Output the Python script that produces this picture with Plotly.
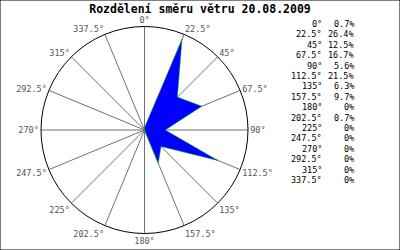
import plotly.graph_objects as go

directions = [0, 22.5, 45, 67.5, 90, 112.5, 135, 157.5, 180, 202.5, 225, 247.5, 270, 292.5, 315, 337.5]
dir_labels = ["0°", "22.5°", "45°", "67.5°", "90°", "112.5°", "135°", "157.5°", "180°", "202.5°", "225°", "247.5°", "270°", "292.5°", "315°", "337.5°"]
values = [0.7, 26.4, 12.5, 16.7, 5.6, 21.5, 6.3, 9.7, 0, 0.7, 0, 0, 0, 0, 0, 0]
value_labels = ["0.7%", "26.4%", "12.5%", "16.7%", "5.6%", "21.5%", "6.3%", "9.7%", "0%", "0.7%", "0%", "0%", "0%", "0%", "0%", "0%"]
title = "Rozdělení směru větru 20.08.2009"

font = "DejaVu Sans Mono"

fig = go.Figure()
fig.add_trace(go.Scatterpolar(
    r=values + values[:1],
    theta=directions + directions[:1],
    mode="lines",
    fill="toself",
    fillcolor="#0000ff",
    line=dict(color="#00cc00", width=0.5),
    hoverinfo="skip",
))

annotations = []
y0 = 24
dy = 10.4
for i, (d, v) in enumerate(zip(dir_labels, value_labels)):
    y = 1 - (y0 + i * dy) / 250
    annotations.append(dict(x=324 / 400, y=y, xref="paper", yref="paper", text=d,
                            showarrow=False, xanchor="right", yanchor="middle",
                            font=dict(family=font, size=8.5, color="black")))
    annotations.append(dict(x=356 / 400, y=y, xref="paper", yref="paper", text=v,
                            showarrow=False, xanchor="right", yanchor="middle",
                            font=dict(family=font, size=8.5, color="black")))

fig.update_layout(
    width=400, height=250,
    margin=dict(l=0, r=0, t=0, b=0),
    paper_bgcolor="white",
    plot_bgcolor="white",
    showlegend=False,
    title=dict(text="<b>" + title + "</b>", x=0.5, xanchor="center", y=1 - 9 / 250, yanchor="middle",
               font=dict(family=font, size=11.5, color="black")),
    polar=dict(
        domain=dict(x=[41 / 400, 248 / 400], y=[16.5 / 250, 223.5 / 250]),
        bgcolor="white",
        radialaxis=dict(visible=False, range=[0, 27.8]),
        angularaxis=dict(
            rotation=90, direction="clockwise",
            tickmode="array", tickvals=directions, ticktext=dir_labels,
            showline=True, linecolor="black", linewidth=1,
            showgrid=True, gridcolor="#707070", gridwidth=1,
            ticks="", tickfont=dict(family=font, size=8.5, color="#555555"),
        ),
    ),
    annotations=annotations,
    shapes=[dict(type="rect", xref="paper", yref="paper", x0=0, y0=0, x1=1, y1=1,
                 line=dict(color="black", width=1))],
)

fig.write_html("out.html")
